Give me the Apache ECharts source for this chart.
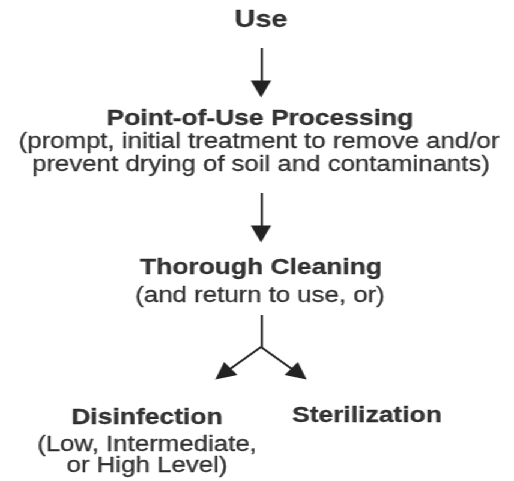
<!DOCTYPE html>
<html><head><meta charset="utf-8">
<script src="https://cdn.jsdelivr.net/npm/echarts@6/dist/echarts.min.js"></script>
<style>html,body{margin:0;padding:0;background:#fff;overflow:hidden;}
#c{width:428px;height:481px;transform:scaleX(1.2009);transform-origin:0 0;}</style>
</head><body><div id="c"></div>
<script>
// Flowchart content (node centres in reference pixel units)
const titles = ['Use', 'Point-of-Use Processing', 'Thorough Cleaning', 'Disinfection', 'Sterilization'];
const titleX = [261, 260, 261, 147, 367];
const titleY = [20, 119, 268, 418, 416];
const notes = ['(prompt, initial treatment to remove and/or', 'prevent drying of soil and contaminants)',
  '(and return to use, or)', '(Low, Intermediate,', 'or High Level)'];
const noteX = [259, 261, 260, 147, 147];
const noteY = [142, 165, 296, 445, 466];
// Connectors: [fromX, fromY, toX, toY]
const arrowEdges = [[261, 48, 261, 89], [261, 193, 261, 234], [261, 347, 223, 374], [261, 347, 299, 374]];
const plainEdges = [[261, 315, 261, 347]];

const chart = echarts.init(document.getElementById('c'));
const font = "'Liberation Sans', Arial, sans-serif";
chart.setOption({
  animation: false,
  grid: {left: 0, right: 0, top: 0, bottom: 0},
  xAxis: {type: 'value', min: 0, max: 514, show: false},
  yAxis: {type: 'value', min: 0, max: 481, inverse: true, show: false},
  series: [
    {
      type: 'lines', coordinateSystem: 'cartesian2d', z: 2,
      symbol: ['none', 'triangle'], symbolSize: [16, 17],
      lineStyle: {color: '#222', width: 1.8, opacity: 1},
      itemStyle: {color: '#000'},
      data: arrowEdges.map(e => ({coords: [[e[0], e[1]], [e[2], e[3]]]}))
    },
    {
      type: 'lines', coordinateSystem: 'cartesian2d', z: 2,
      symbol: ['none', 'none'],
      lineStyle: {color: '#222', width: 1.8, opacity: 1},
      data: plainEdges.map(e => ({coords: [[e[0], e[1]], [e[2], e[3]]]}))
    },
    {
      type: 'scatter', symbolSize: 1, itemStyle: {color: 'rgba(0,0,0,0)'},
      label: {show: true, position: 'inside', formatter: '{b}', color: '#000',
        textBorderColor: '#000', textBorderWidth: 0.3,
        fontFamily: font, fontWeight: 'bold', fontSize: 22},
      data: titles.map((t, i) => ({name: t, value: [titleX[i], titleY[i]],
        label: i === 0 ? {fontSize: 24} : undefined}))
    },
    {
      type: 'scatter', symbolSize: 1, itemStyle: {color: 'rgba(0,0,0,0)'},
      label: {show: true, position: 'inside', formatter: '{b}', color: '#000',
        textBorderColor: '#000', textBorderWidth: 0.3,
        fontFamily: font, fontWeight: 'normal', fontSize: 21.5},
      data: notes.map((t, i) => ({name: t, value: [noteX[i], noteY[i]]}))
    }
  ]
});
</script></body></html>
